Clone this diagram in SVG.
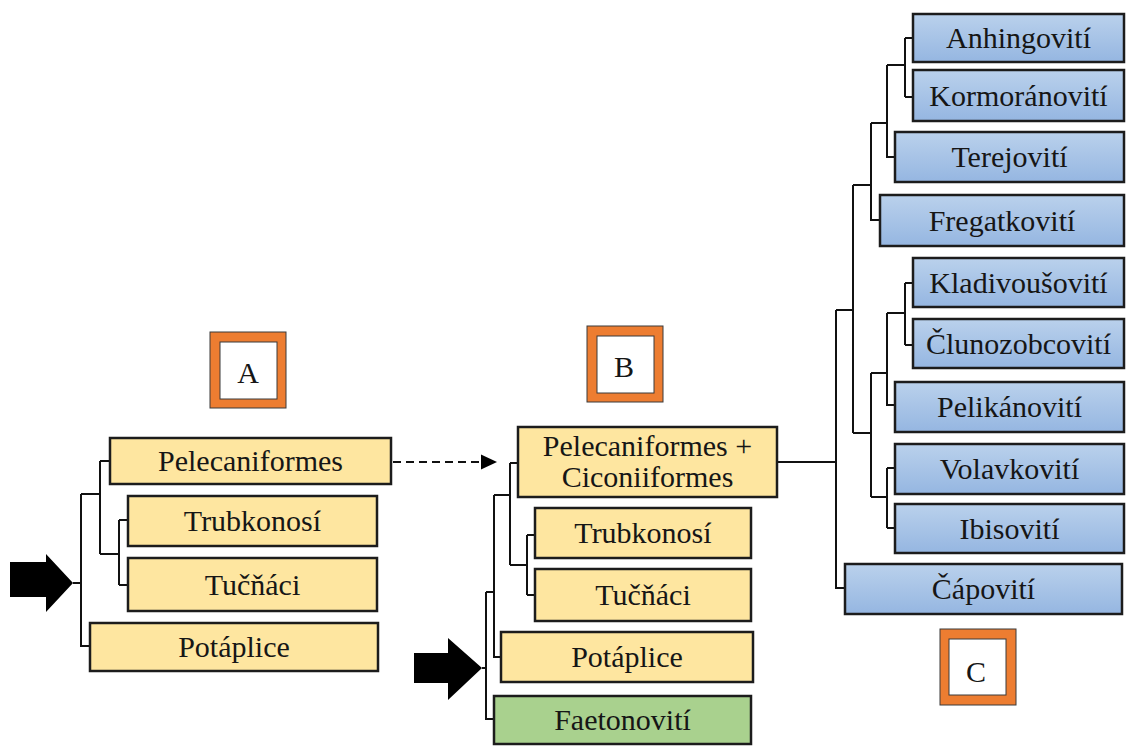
<svg xmlns="http://www.w3.org/2000/svg" width="1127" height="746" viewBox="0 0 1127 746">
  <defs>
    <linearGradient id="blueFill" x1="0" y1="0" x2="0" y2="1">
      <stop offset="0" stop-color="#bad1ec"/>
      <stop offset="1" stop-color="#95b6e1"/>
    </linearGradient>
  </defs>
  <style>
    .box { stroke: #1c1c1c; stroke-width: 2.5; }
    .yellow { fill: #fee6a0; }
    .green { fill: #a9d18e; }
    .blue { fill: url(#blueFill); }
    .lbl { font-size: 30px; fill: #161616; text-anchor: middle; }
    .tag-outer { fill: #ed7d31; stroke: #3a3a3a; stroke-width: 1; }
    .tag-inner { fill: #ffffff; stroke: #3a3a3a; stroke-width: 1; }
    .tree { fill: none; stroke: #111; stroke-width: 2; }
    .dash { fill: none; stroke: #111; stroke-width: 2; stroke-dasharray: 8 5; }
    .block { fill: #000; }
  </style>
  <rect width="1127" height="746" fill="#ffffff"/>

  <!-- connectors -->
  <g id="connectors">
    <!-- tree A -->
    <path class="tree" d="M73,583 H81 M81,494 V646 H89 M81,494 H100 M100,461 V554 M100,461 H109 M100,554 H119 M119,520 V585 M119,520 H127 M119,585 H127"/>
    <!-- tree B -->
    <path class="tree" d="M482,668 H486 M486,592 V719 H493 M486,592 H494 M494,495 V657 H500 M494,495 H510 M510,463 V565 M510,463 H517 M510,565 H527 M527,535 V595 M527,535 H534 M527,595 H534"/>
    <path class="tree" d="M778,462 H836"/>
    <!-- tree C -->
    <path class="tree" d="M836,310 V588 H844 M836,310 H853 M853,185 V433 M853,185 H871 M871,123 V220 H879 M871,123 H887 M887,65 V157 H894 M887,65 H905 M905,38 V97 M905,38 H912 M905,97 H912"/>
    <path class="tree" d="M853,433 H871 M871,373 V497 M871,373 H887 M887,313 V405 H894 M887,313 H905 M905,283 V345 M905,283 H912 M905,345 H912 M871,497 H887 M887,468 V528 M887,468 H894 M887,528 H894"/>
    <!-- A to B -->
    <path class="dash" d="M393,462 H482"/>
    <polygon class="block" points="481,454.5 497,462 481,469.5"/>
    <!-- root arrows -->
    <polygon class="block" points="10,562 46,562 46,554 73,583 46,612 46,597 10,597"/>
    <polygon class="block" points="414,653 448,653 448,638 482,668 448,700 448,683 414,683"/>
  </g>

  <g font-family="'Liberation Serif', 'Times New Roman', 'DejaVu Serif', serif">
  <!-- section tags -->
  <g id="tag-A">
    <rect class="tag-outer" x="210" y="332" width="76" height="76"/>
    <rect class="tag-inner" x="220" y="342" width="57" height="57"/>
    <text class="lbl" x="248" y="383">A</text>
  </g>
  <g id="tag-B">
    <rect class="tag-outer" x="587" y="326" width="76" height="76"/>
    <rect class="tag-inner" x="597" y="336" width="57" height="57"/>
    <text class="lbl" x="624" y="377">B</text>
  </g>
  <g id="tag-C">
    <rect class="tag-outer" x="940" y="629" width="76" height="76"/>
    <rect class="tag-inner" x="949" y="639" width="57" height="56"/>
    <text class="lbl" x="976" y="682">C</text>
  </g>

  <!-- tree A nodes -->
  <g id="a-pelecaniformes">
    <rect class="box yellow" x="110" y="438" width="281" height="46"/>
    <text class="lbl" x="250.5" y="471">Pelecaniformes</text>
  </g>
  <g id="a-trubkonosi">
    <rect class="box yellow" x="128" y="496" width="249" height="50"/>
    <text class="lbl" x="252.5" y="531">Trubkonosí</text>
  </g>
  <g id="a-tucnaci">
    <rect class="box yellow" x="128" y="558" width="249" height="53"/>
    <text class="lbl" x="252.5" y="594.5">Tučňáci</text>
  </g>
  <g id="a-potaplice">
    <rect class="box yellow" x="90" y="623" width="288" height="48"/>
    <text class="lbl" x="234" y="657">Potáplice</text>
  </g>

  <!-- tree B nodes -->
  <g id="b-pelecaniformes-ciconiiformes">
    <rect class="box yellow" x="518" y="427" width="259" height="70"/>
    <text class="lbl" x="647.5" y="455.5">Pelecaniformes +</text>
    <text class="lbl" x="647.5" y="486.5">Ciconiiformes</text>
  </g>
  <g id="b-trubkonosi">
    <rect class="box yellow" x="535" y="508" width="216" height="50"/>
    <text class="lbl" x="643" y="543">Trubkonosí</text>
  </g>
  <g id="b-tucnaci">
    <rect class="box yellow" x="535" y="569" width="216" height="52"/>
    <text class="lbl" x="643" y="605">Tučňáci</text>
  </g>
  <g id="b-potaplice">
    <rect class="box yellow" x="501" y="632" width="252" height="50"/>
    <text class="lbl" x="627" y="667">Potáplice</text>
  </g>
  <g id="b-faetonoviti">
    <rect class="box green" x="494" y="696" width="257" height="48"/>
    <text class="lbl" x="622.5" y="729.5">Faetonovití</text>
  </g>

  <!-- tree C nodes -->
  <g id="c-anhingoviti">
    <rect class="box blue" x="913" y="14" width="211" height="48"/>
    <text class="lbl" x="1018.5" y="48">Anhingovití</text>
  </g>
  <g id="c-kormoranoviti">
    <rect class="box blue" x="913" y="70" width="211" height="51"/>
    <text class="lbl" x="1018.5" y="105.5">Kormoránovití</text>
  </g>
  <g id="c-terejoviti">
    <rect class="box blue" x="895" y="132" width="229" height="50"/>
    <text class="lbl" x="1009.5" y="167">Terejovití</text>
  </g>
  <g id="c-fregatkoviti">
    <rect class="box blue" x="880" y="195" width="244" height="51"/>
    <text class="lbl" x="1002" y="230.5">Fregatkovití</text>
  </g>
  <g id="c-kladivousoviti">
    <rect class="box blue" x="913" y="258" width="211" height="49"/>
    <text class="lbl" x="1018.5" y="292.5">Kladivoušovití</text>
  </g>
  <g id="c-clunozobcoviti">
    <rect class="box blue" x="913" y="319" width="211" height="49"/>
    <text class="lbl" x="1018.5" y="353.5">Člunozobcovití</text>
  </g>
  <g id="c-pelikanoviti">
    <rect class="box blue" x="895" y="382" width="229" height="50"/>
    <text class="lbl" x="1009.5" y="417">Pelikánovití</text>
  </g>
  <g id="c-volavkoviti">
    <rect class="box blue" x="895" y="444" width="229" height="50"/>
    <text class="lbl" x="1009.5" y="479">Volavkovití</text>
  </g>
  <g id="c-ibisoviti">
    <rect class="box blue" x="895" y="504" width="229" height="49"/>
    <text class="lbl" x="1009.5" y="538.5">Ibisovití</text>
  </g>
  <g id="c-capoviti">
    <rect class="box blue" x="845" y="564" width="277" height="50"/>
    <text class="lbl" x="983.5" y="599">Čápovití</text>
  </g>
  </g>
</svg>
